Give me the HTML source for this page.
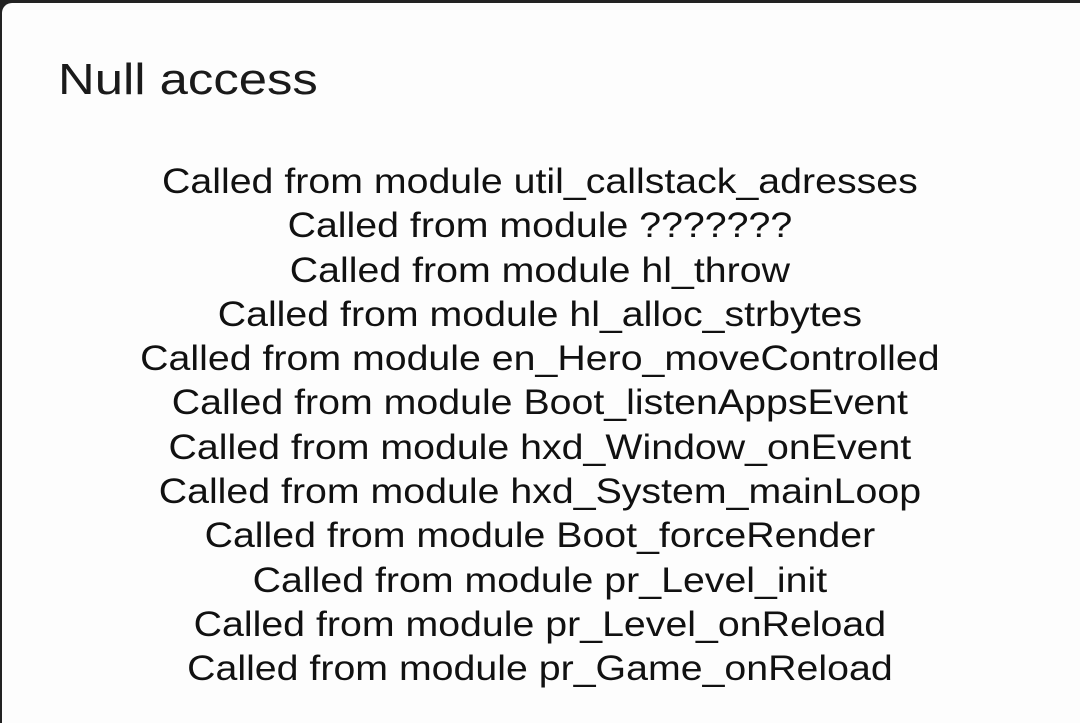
<!DOCTYPE html>
<html><head><style>
html,body{margin:0;padding:0;width:1080px;height:698px;overflow:hidden;background:#222;}
.card{position:absolute;left:2px;top:3px;width:1090px;height:720px;background:#fdfdfd;border-top-left-radius:10px;}
.t{position:absolute;left:58px;top:53px;font:44px/54px "Liberation Sans",sans-serif;color:#1a1a1a;transform:scaleX(1.155);transform-origin:0 0;}
.lines{position:absolute;left:0;top:159px;width:1080px;text-align:center;font:35.5px/44.3px "Liberation Sans",sans-serif;color:#111;transform:scaleX(1.107);transform-origin:541px 0;}
</style></head><body>
<div class="card"></div>
<div class="t">Null access</div>
<div class="lines">
Called from module util_callstack_adresses<br>
Called from module ???????<br>
Called from module hl_throw<br>
Called from module hl_alloc_strbytes<br>
Called from module en_Hero_moveControlled<br>
Called from module Boot_listenAppsEvent<br>
Called from module hxd_Window_onEvent<br>
Called from module hxd_System_mainLoop<br>
Called from module Boot_forceRender<br>
Called from module pr_Level_init<br>
Called from module pr_Level_onReload<br>
Called from module pr_Game_onReload
</div>
</body></html>
